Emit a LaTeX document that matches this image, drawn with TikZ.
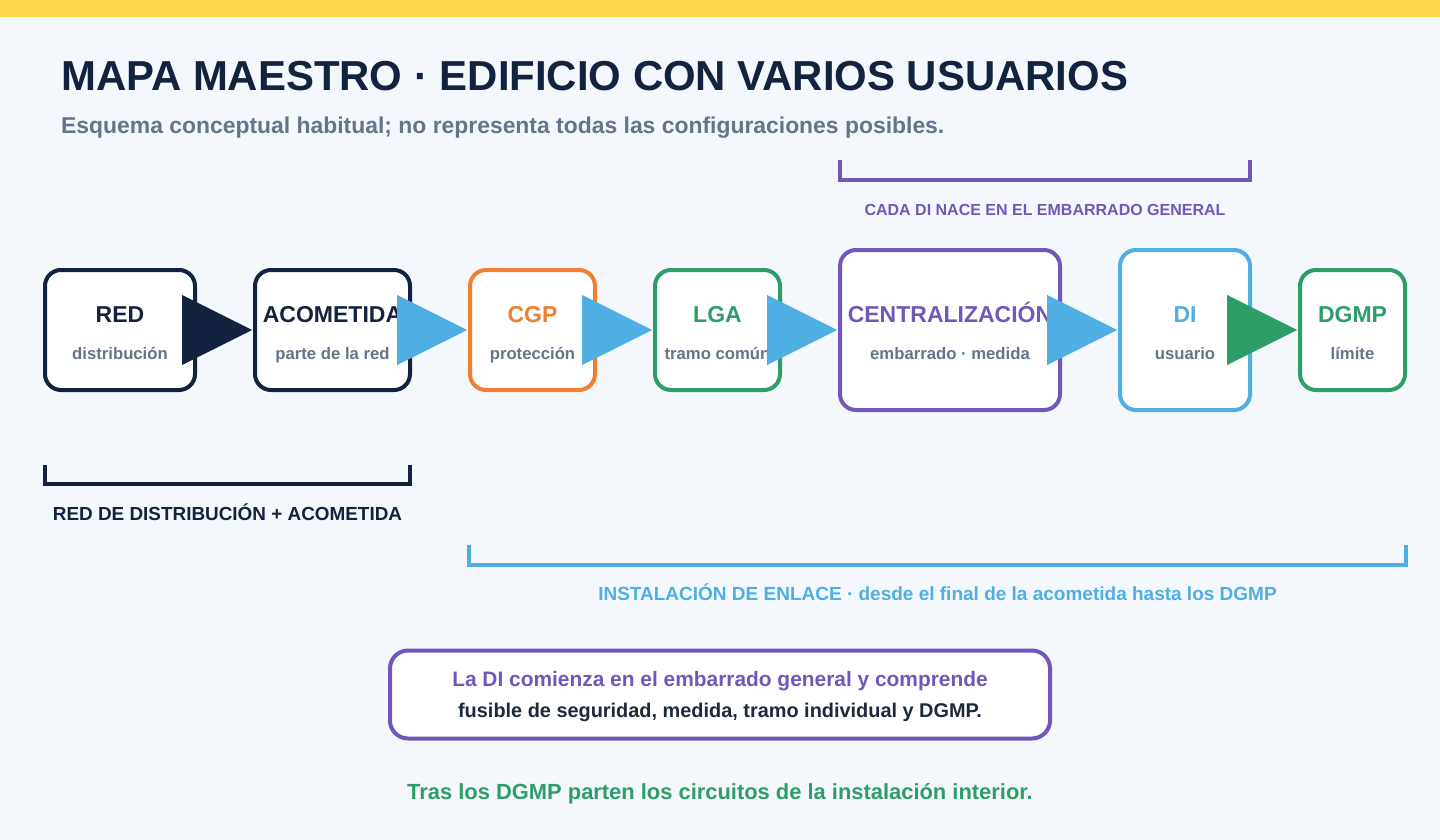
\documentclass[tikz,border=0pt]{standalone}
\usepackage{fontspec}
\setmainfont{Liberation Sans}
\usetikzlibrary{arrows.meta,calc}
\definecolor{navy}{HTML}{13233F}
\definecolor{slate}{HTML}{64748B}
\definecolor{ink}{HTML}{1E293B}
\definecolor{orng}{HTML}{EF7F31}
\definecolor{grn}{HTML}{2E9E69}
\definecolor{purp}{HTML}{7357B8}
\definecolor{sky}{HTML}{4FAFE2}
\definecolor{yel}{HTML}{FFD84E}
\definecolor{bgc}{HTML}{F4F7FC}
\newcommand{\fsz}[1]{\fontsize{#1}{#1}\selectfont}
\tikzset{
  box/.style={draw=#1, line width=4pt, fill=white, rounded corners=16pt, inner sep=0pt, outer sep=3pt},
  lbl/.style={anchor=base, inner sep=0pt, text=#1, font=\bfseries\fsz{23}},
  sub/.style={anchor=base, inner sep=0pt, text=slate, font=\bfseries\fsz{16.7}},
  conn/.style={draw=#1, fill=#1, line width=1pt, -{Triangle[length=70pt,width=70pt]}},
  brk/.style={draw=#1, line width=4pt},
  cap/.style={anchor=base, inner sep=0pt, text=#1, font=\bfseries\fsz{19}}
}
\begin{document}
\begin{tikzpicture}[x=1pt,y=-1pt]
\useasboundingbox (0,0) rectangle (1440,840);
\fill[bgc] (0,0) rectangle (1440,840);
\fill[yel] (0,0) rectangle (1440,17);

% title
\node[anchor=base west, inner sep=0pt, text=navy, font=\bfseries\fsz{41.9}] (title) at (61,90.7) {MAPA MAESTRO · EDIFICIO CON VARIOS USUARIOS};
\node[anchor=base west, inner sep=0pt, text=slate, font=\bfseries\fsz{22.9}] (subtitle) at (61,134) {Esquema conceptual habitual; no representa todas las configuraciones posibles.};

% boxes
\node[box=navy, minimum width=150, minimum height=120] (red) at (120,330) {};
\node[box=navy, minimum width=155, minimum height=120] (acom) at (332.5,330) {};
\node[box=orng, minimum width=125, minimum height=120] (cgp) at (532.5,330) {};
\node[box=grn, minimum width=125, minimum height=120] (lga) at (717.5,330) {};
\node[box=purp, minimum width=220, minimum height=160] (cent) at (950,330) {};
\node[box=sky, minimum width=130, minimum height=160] (di) at (1185,330) {};
\node[box=grn, minimum width=105, minimum height=120] (dgmp) at (1352.5,330) {};

% labels
\node[lbl=navy] (redT) at ($(red.center)+(0,-7.5)$) {RED};
\node[sub] (redS) at ($(red.center)+(0,29.3)$) {distribución};
\node[lbl=navy] (acomT) at ($(acom.center)+(0,-7.5)$) {ACOMETIDA};
\node[sub] (acomS) at ($(acom.center)+(0,29.3)$) {parte de la red};
\node[lbl=orng] (cgpT) at ($(cgp.center)+(0,-7.5)$) {CGP};
\node[sub] (cgpS) at ($(cgp.center)+(0,29.3)$) {protección};
\node[lbl=grn] (lgaT) at ($(lga.center)+(0,-7.5)$) {LGA};
\node[sub] (lgaS) at ($(lga.center)+(0,29.3)$) {tramo común};
\node[lbl=purp] (centT) at ($(cent.center)+(0,-7.5)$) {CENTRALIZACIÓN};
\node[sub] (centS) at ($(cent.center)+(0,29.3)$) {embarrado · medida};
\node[lbl=sky] (diT) at ($(di.center)+(0,-7.5)$) {DI};
\node[sub] (diS) at ($(di.center)+(0,29.3)$) {usuario};
\node[lbl=grn] (dgmpT) at ($(dgmp.center)+(0,-7.5)$) {DGMP};
\node[sub] (dgmpS) at ($(dgmp.center)+(0,29.3)$) {límite};

% connectors
\draw[conn=navy] (red.east) -- (acom.west);
\draw[conn=sky] (acom.east) -- (cgp.west);
\draw[conn=sky] (cgp.east) -- (lga.west);
\draw[conn=sky] (lga.east) -- (cent.west);
\draw[conn=sky] (cent.east) -- (di.west);
\draw[conn=grn] (di.east) -- (dgmp.west);

% brackets
\draw[brk=purp] (840,160) -- (840,180) -- (1250,180) -- (1250,160);
\node[cap=purp, font=\bfseries\fsz{16}] (capDI) at (1045,215) {CADA DI NACE EN EL EMBARRADO GENERAL};
\draw[brk=navy] (45,465) -- (45,484) -- (410,484) -- (410,465);
\node[cap=navy, font=\bfseries\fsz{18.9}] (capRed) at (227.5,520.7) {RED DE DISTRIBUCIÓN + ACOMETIDA};
\draw[brk=sky] (469,545) -- (469,565) -- (1406,565) -- (1406,545);
\node[cap=sky] (capEnl) at (937.5,600) {INSTALACIÓN DE ENLACE · desde el final de la acometida hasta los DGMP};

% note
\node[draw=purp, line width=4pt, fill=white, rounded corners=18pt, minimum width=660, minimum height=88, inner sep=0pt] (note) at (720,694.5) {};
\node[anchor=base, inner sep=0pt, text=purp, font=\bfseries\fsz{20.9}] (note1) at (720,686.7) {La DI comienza en el embarrado general y comprende};
\node[anchor=base, inner sep=0pt, text=ink, font=\bfseries\fsz{19.9}] (note2) at (720,717.3) {fusible de seguridad, medida, tramo individual y DGMP.};

\node[anchor=base, inner sep=0pt, text=grn, font=\bfseries\fsz{21.9}] (foot) at (720,799.3) {Tras los DGMP parten los circuitos de la instalación interior.};
\end{tikzpicture}
\end{document}
